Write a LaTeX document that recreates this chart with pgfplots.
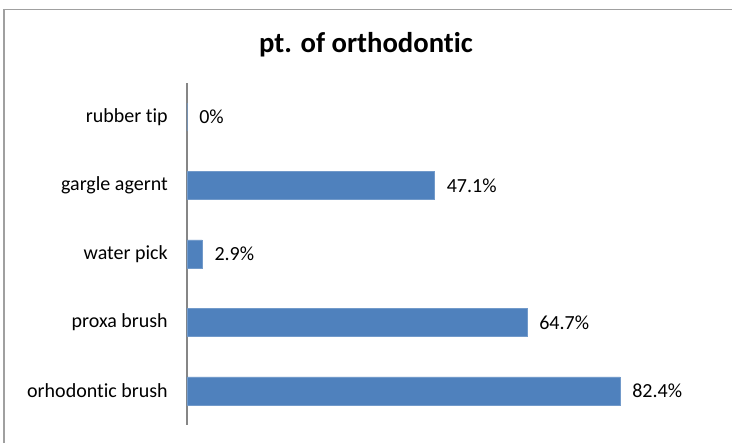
\documentclass[border=0pt]{standalone}
\usepackage{pgfplots}
\pgfplotsset{compat=1.18}
\usepackage{fontspec}
\setmainfont{Carlito}[Ligatures=NoCommon]
\definecolor{barblue}{HTML}{4F81BD}
\definecolor{axgray}{HTML}{868686}
\definecolor{framegray}{HTML}{A0A0A0}
\begin{document}
\begin{tikzpicture}
\path[use as bounding box] (0,0) rectangle (549pt,-332.25pt);
\draw[framegray, line width=1.2pt] (3pt,-332.25pt) -- (3pt,-7pt) -- (549pt,-7pt);
\node[anchor=base, font=\fontsize{21.5pt}{24pt}\selectfont\bfseries] at (274.5pt,-39pt) {pt. of orthodontic};
\begin{axis}[
  at={(140.25pt,-62.25pt)}, anchor=north west,
  scale only axis, width=354.75pt, height=256.5pt,
  xbar, bar width=21pt,
  xmin=0, xmax=90, ymin=-0.5, ymax=4.5,
  hide x axis,
  axis y line*=left,
  y axis line style={axgray, line width=0.9pt, -},
  ytick={0,1,2,3,4},
  yticklabels={orhodontic brush, proxa brush, water pick, gargle agernt, rubber tip},
  major tick length=0pt,
  yticklabel style={inner sep=0pt, xshift=-14.25pt, font=\fontsize{15pt}{18pt}\selectfont},
  point meta=explicit symbolic,
  nodes near coords,
  nodes near coords style={anchor=west, inner sep=0pt, xshift=9pt, font=\fontsize{15pt}{18pt}\selectfont, text=black},
  clip=false,
]
\addplot[fill=barblue, draw=barblue!80!white] table[x=x, y=y, meta=lab] {
x y lab
82.4 0 82.4\%
64.7 1 64.7\%
2.9 2 2.9\%
47.1 3 47.1\%
0 4 0\%
};
\end{axis}
\end{tikzpicture}
\end{document}
